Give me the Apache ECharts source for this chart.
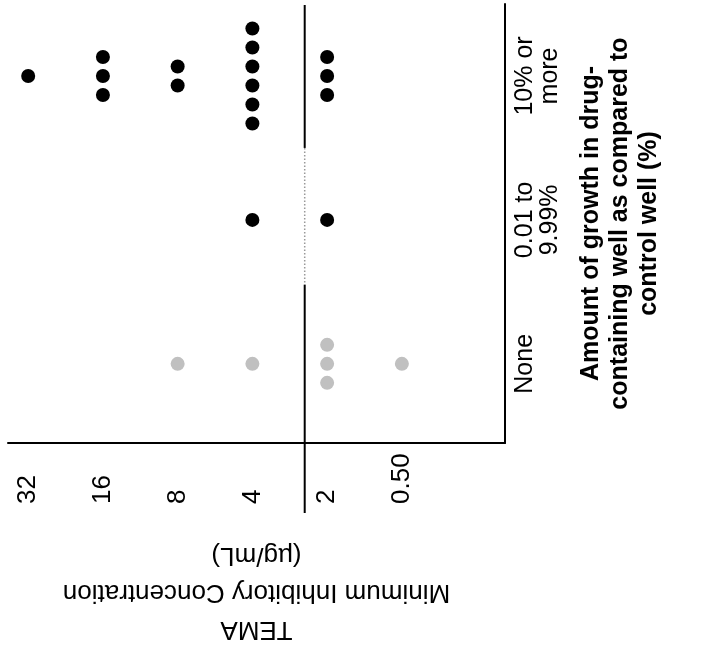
<!DOCTYPE html>
<html><head><meta charset="utf-8">
<script src="https://cdn.jsdelivr.net/npm/echarts@6/dist/echarts.min.js"></script>
<style>html,body{margin:0;padding:0;background:#fff}#c{width:723px;height:653px}</style>
</head><body><div id="c"></div>
<script>
// MIC tick labels (left to right) and their axis positions
const micLabels = ["32", "16", "8", "4", "2", "0.50"];
const micPositions = [0, 1, 2, 3, 4, 5];
// growth categories (bottom to top)
const growthLabels = ["None", "0.01 to\n9.99%", "10% or\nmore"];
const growthPositions = [0, 1, 2];
// number of isolates at each MIC (same order as micLabels)
const countsNone = [0, 0, 1, 1, 3, 1];
const countsLow = [0, 0, 0, 1, 1, 0];
const countsHigh = [1, 3, 2, 6, 3, 0];
// breakpoint line between MIC 4 and 2
const breakpointPos = 3.7;

const FONT = "'Liberation Sans', Arial, Helvetica, sans-serif";
const DOT_STEP = 19;

function dots(counts, g) {
  const out = [];
  counts.forEach((n, i) => {
    for (let k = 0; k < n; k++) {
      out.push({ value: [micPositions[i], growthPositions[g]], symbolOffset: [0, (k - (n - 1) / 2) * DOT_STEP] });
    }
  });
  return out;
}

const chart = echarts.init(document.getElementById('c'), null, { renderer: 'canvas' });
const option = {
  animation: false,
  backgroundColor: '#fff',
  grid: { left: 8, right: 218, top: 4, bottom: 209, containLabel: false },
  xAxis: {
    type: 'value', min: -0.27, max: 6.38,
    axisLine: { show: true, onZero: false, lineStyle: { color: '#000', width: 2 } },
    axisTick: { show: false },
    splitLine: { show: false },
    axisLabel: {
      customValues: micPositions,
      formatter: v => micLabels[micPositions.indexOf(v)],
      rotate: 90, align: 'left', verticalAlign: 'middle', margin: 61,
      fontSize: 26, color: '#000', fontFamily: FONT
    },
    name: 'TEMA\nMinimum Inhibitory Concentration\n(µg/mL)',
    nameLocation: 'middle', nameRotate: 180, nameGap: 94,
    nameTextStyle: { fontSize: 26, lineHeight: 37, color: '#000', fontFamily: FONT }
  },
  yAxis: {
    type: 'value', position: 'right', min: -0.55, max: 2.5,
    axisLine: { show: true, onZero: false, lineStyle: { color: '#000', width: 2 } },
    axisTick: { show: false },
    splitLine: { show: false },
    axisLabel: {
      customValues: growthPositions,
      formatter: v => growthLabels[growthPositions.indexOf(v)],
      rotate: 90, margin: 8, lineHeight: 25,
      fontSize: 25, color: '#000', fontFamily: FONT
    },
    name: 'Amount of growth in drug-\ncontaining well as compared to\ncontrol well (%)',
    nameLocation: 'middle', nameRotate: 90, nameGap: 72,
    nameTextStyle: { fontSize: 25, fontWeight: 'bold', lineHeight: 29, color: '#000', fontFamily: FONT }
  },
  series: [
    { type: 'scatter', name: 'None', data: dots(countsNone, 0), symbolSize: 14, itemStyle: { color: '#c0c0c0', opacity: 1 }, clip: false },
    { type: 'scatter', name: 'Low', data: dots(countsLow, 1), symbolSize: 14, itemStyle: { color: '#000', opacity: 1 }, clip: false },
    { type: 'scatter', name: 'High', data: dots(countsHigh, 2), symbolSize: 14, itemStyle: { color: '#000', opacity: 1 }, clip: false }
  ]
};
chart.setOption(option);

// breakpoint divider line positioned through the chart's own scales
const pTop = chart.convertToPixel({ gridIndex: 0 }, [breakpointPos, 2.5]);
const pA = chart.convertToPixel({ gridIndex: 0 }, [breakpointPos, 1.5]);
const pB = chart.convertToPixel({ gridIndex: 0 }, [breakpointPos, 0.55]);
const pBot = chart.convertToPixel({ gridIndex: 0 }, [breakpointPos, -0.55]);
const solid = { stroke: '#000', lineWidth: 2 };
chart.setOption({
  graphic: [
    { type: 'line', z: 10, shape: { x1: pTop[0], y1: pTop[1] + 1, x2: pA[0], y2: pA[1] }, style: solid },
    { type: 'line', z: 10, shape: { x1: pA[0], y1: pA[1], x2: pB[0], y2: pB[1] }, style: { stroke: '#999', lineWidth: 1.5, lineDash: [1.5, 2] } },
    { type: 'line', z: 10, shape: { x1: pB[0], y1: pB[1], x2: pBot[0], y2: pBot[1] + 70 }, style: solid }
  ]
});
</script></body></html>
